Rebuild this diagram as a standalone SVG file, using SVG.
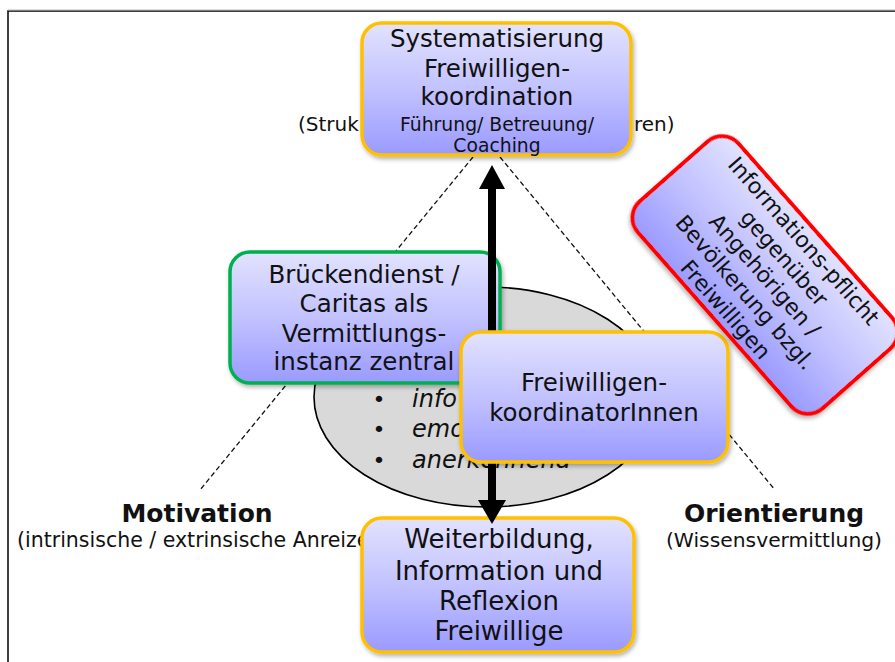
<svg xmlns="http://www.w3.org/2000/svg" width="895" height="662" viewBox="0 0 895 662">
<defs>
<style>
text{font-family:"DejaVu Sans",Verdana,sans-serif;fill:#111;}
.box{fill:url(#g);stroke-width:3.5;filter:url(#sh);}
.yel{stroke:#FFC000;}
.grn{stroke:#00B050;}
.red{stroke:#FF0000;stroke-width:4;}
.dash{stroke:#111;stroke-width:1.3;stroke-dasharray:5 3;fill:none;}
.c{text-anchor:middle;}
</style>
<linearGradient id="g" x1="0" y1="0" x2="0" y2="1">
<stop offset="0" stop-color="#e2e2fe"/>
<stop offset="0.5" stop-color="#c2c2ff"/>
<stop offset="1" stop-color="#9a9aff"/>
</linearGradient>
<filter id="sh" x="-10%" y="-10%" width="125%" height="130%">
<feDropShadow dx="1.5" dy="2.5" stdDeviation="2" flood-color="#000" flood-opacity="0.3"/>
</filter>
</defs>
<rect width="895" height="662" fill="#fff"/>
<rect x="8" y="11" width="1000" height="1000" fill="none" stroke="#000" stroke-width="1.5"/>
<line x1="8" y1="10" x2="895" y2="10" stroke="#bbb" stroke-width="1"/>

<g id="connectors">
<line class="dash" x1="473" y1="157" x2="200" y2="490"/>
<line class="dash" x1="500" y1="157" x2="775" y2="490"/>
</g>

<g id="ellipse">
<ellipse cx="486" cy="397" rx="172" ry="110" fill="#d9d9d9" stroke="#000" stroke-width="1.6"/>
<text x="379" y="407" font-size="22" class="c">•</text>
<text x="379" y="437" font-size="22" class="c">•</text>
<text x="379" y="468" font-size="22" class="c">•</text>
<text x="412" y="407" font-size="24" font-style="italic">info</text>
<text x="412" y="437" font-size="24" font-style="italic">emo</text>
<text x="412" y="468" font-size="24" font-style="italic">anerkennend</text>
</g>

<g id="labels">
<text x="298" y="131" font-size="20">(Struk</text>
<text x="634" y="131" font-size="20">ren)</text>
<text x="197" y="522" font-size="25" font-weight="bold" class="c">Motivation</text>
<text x="17" y="547" font-size="20.5">(intrinsische / extrinsische Anreize)</text>
<text x="774" y="522" font-size="25" font-weight="bold" class="c">Orientierung</text>
<text x="774" y="547" font-size="20.3" class="c">(Wissensvermittlung)</text>
</g>

<g id="top">
<rect class="box yel" x="362" y="23" width="269" height="132" rx="20"/>
<text x="497" y="47" font-size="24.5" class="c">Systematisierung</text>
<text x="497" y="77" font-size="24.5" class="c">Freiwilligen-</text>
<text x="497" y="105" font-size="24.5" class="c">koordination</text>
<text x="497" y="131" font-size="18.8" class="c">Führung/ Betreuung/</text>
<text x="497" y="152" font-size="18.8" class="c">Coaching</text>
</g>

<g id="bottom">
<rect class="box yel" x="362" y="518" width="272" height="134" rx="20"/>
<text x="499" y="548" font-size="26" class="c">Weiterbildung,</text>
<text x="499" y="580" font-size="26" class="c">Information und</text>
<text x="499" y="610" font-size="26" class="c">Reflexion</text>
<text x="499" y="640" font-size="26" class="c">Freiwillige</text>
</g>

<g id="bridge">
<rect class="box grn" x="230" y="252" width="270" height="131" rx="20"/>
<text x="364" y="283" font-size="24.5" class="c">Brückendienst /</text>
<text x="364" y="312" font-size="24.5" class="c">Caritas als</text>
<text x="364" y="342" font-size="24.5" class="c">Vermittlungs-</text>
<text x="364" y="370" font-size="24.5" class="c">instanz zentral</text>
</g>

<g id="arrow">
<line x1="492" y1="186" x2="492" y2="503" stroke="#000" stroke-width="8"/>
<polygon points="492,165 479,189 505,189" fill="#000"/>
<polygon points="492,524 478,500 506,500" fill="#000"/>
</g>

<g id="coord">
<rect class="box yel" x="461" y="332" width="267" height="130" rx="20"/>
<text x="594" y="391" font-size="24.5" class="c">Freiwilligen-</text>
<text x="594" y="421" font-size="24.5" class="c">koordinatorInnen</text>
</g>

<g id="info" transform="translate(765,275) rotate(48.6)">
<rect class="box red" x="-138" y="-67" width="276" height="134" rx="22"/>
<text x="0" y="-44" font-size="22" class="c">Informations-pflicht</text>
<text x="0" y="-18" font-size="22" class="c">gegenüber</text>
<text x="0" y="8" font-size="22" class="c">Angehörigen /</text>
<text x="0" y="34" font-size="22" class="c">Bevölkerung bzgl.</text>
<text x="0" y="60" font-size="22" class="c">Freiwilligen</text>
</g>
</svg>
